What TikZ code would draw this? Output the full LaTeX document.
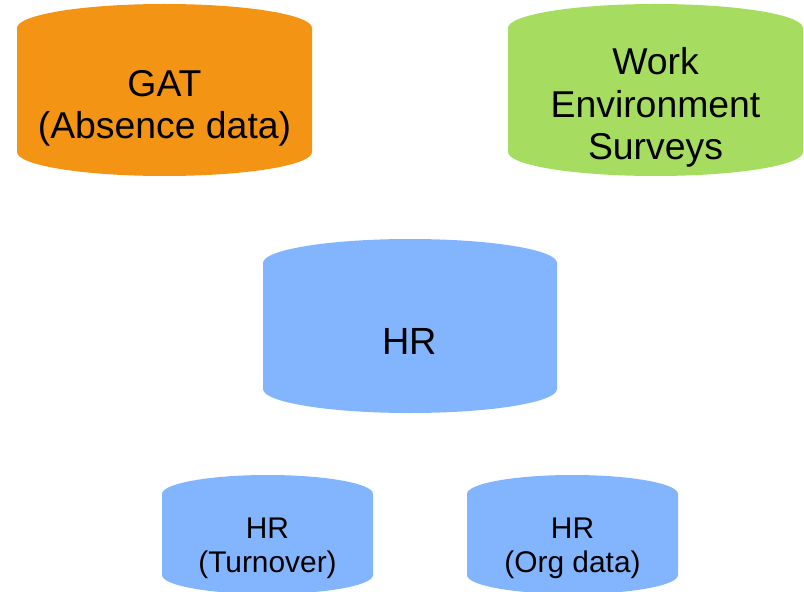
\documentclass[tikz,border=0pt]{standalone}
\usepackage{fontspec}
\setmainfont{Liberation Sans}
\definecolor{gatorange}{RGB}{244,148,20}
\definecolor{wesgreen}{RGB}{166,221,96}
\definecolor{hrblue}{RGB}{131,181,255}
\begin{document}
\begin{tikzpicture}[x=1bp,y=1bp,
  bigtext/.style={align=center,inner sep=0pt,font=\fontsize{37.5}{42.5}\selectfont},
  smalltext/.style={align=center,inner sep=0pt,font=\fontsize{30}{34}\selectfont}]
\useasboundingbox (0,0) rectangle (804,-592);
% GAT cylinder
\fill[gatorange] (17,-28) -- (17,-152)
  arc[start angle=180,end angle=360,x radius=147.5bp,y radius=24bp]
  -- (312,-28)
  arc[start angle=0,end angle=180,x radius=147.5bp,y radius=24bp] -- cycle;
\node[bigtext] (gat) at (164.5,-108) {GAT\\(Absence data)};
% Work environment cylinder
\fill[wesgreen] (508,-28) -- (508,-152)
  arc[start angle=180,end angle=360,x radius=147.5bp,y radius=24bp]
  -- (803,-28)
  arc[start angle=0,end angle=180,x radius=147.5bp,y radius=24bp] -- cycle;
\node[bigtext] (wes) at (655.5,-107.5) {Work\\Environment\\Surveys};
% HR cylinder
\fill[hrblue] (263,-263) -- (263,-389)
  arc[start angle=180,end angle=360,x radius=147bp,y radius=24bp]
  -- (557,-263)
  arc[start angle=0,end angle=180,x radius=147bp,y radius=24bp] -- cycle;
\node[inner sep=0pt,anchor=base,font=\fontsize{38}{45}\selectfont] (hr) at (410,-354) {HR};
% HR turnover cylinder
\fill[hrblue] (162,-494) -- (162,-575)
  arc[start angle=180,end angle=360,x radius=105.5bp,y radius=19bp]
  -- (373,-494)
  arc[start angle=0,end angle=180,x radius=105.5bp,y radius=19bp] -- cycle;
\node[smalltext] (turn) at (267.5,-548.4) {HR\\(Turnover)};
% HR org data cylinder
\fill[hrblue] (467,-494) -- (467,-575)
  arc[start angle=180,end angle=360,x radius=105.5bp,y radius=19bp]
  -- (678,-494)
  arc[start angle=0,end angle=180,x radius=105.5bp,y radius=19bp] -- cycle;
\node[smalltext] (org) at (572.5,-548.4) {HR\\(Org data)};
\end{tikzpicture}
\end{document}
